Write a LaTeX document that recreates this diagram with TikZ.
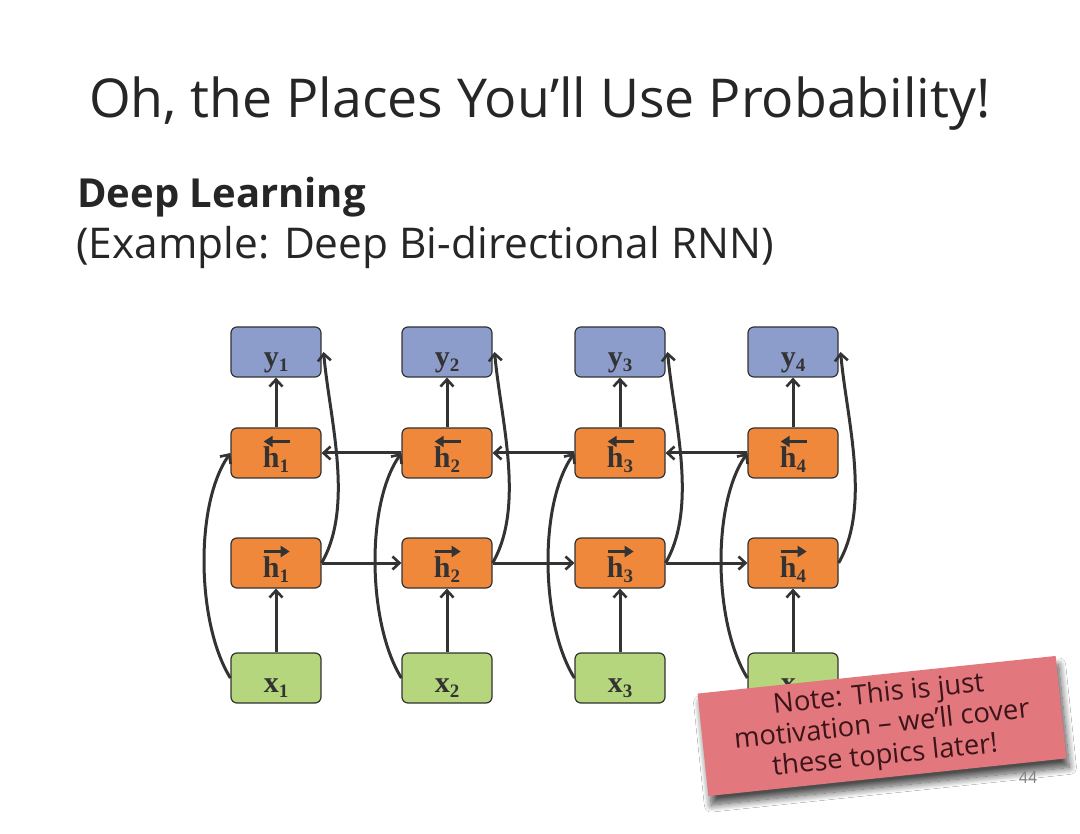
\documentclass[tikz,border=0pt]{standalone}
\usepackage{fontspec}
\setmainfont{Open Sans}
\newfontfamily\nodefont{Liberation Serif}
\usetikzlibrary{arrows.meta,shadows.blur,calc}
\definecolor{ybl}{HTML}{8C9DCB}
\definecolor{hor}{HTML}{F0883C}
\definecolor{xgr}{HTML}{B5D67C}
\definecolor{bord}{HTML}{333333}
\definecolor{notepink}{HTML}{E2787D}
\definecolor{titlecol}{HTML}{262626}
\newcommand{\sbs}[1]{\raisebox{-5pt}{\fontsize{19}{19}\selectfont #1}}
\newcommand{\vecarrow}[1]{\tikz[baseline=0pt]{\draw[bord, line width=3.6pt, #1] (0pt,0pt) -- (26pt,0pt);}}
\newcommand{\hv}[2]{\rlap{\raisebox{26pt}[0pt][0pt]{\hspace{-1pt}\vecarrow{#1}}}h\sbs{#2}}
\tikzset{
  cell/.style={draw=bord, line width=1.2pt, rounded corners=6pt, minimum width=90pt, minimum height=50pt, inner sep=0pt,
    text height=29pt, text depth=0pt, font=\nodefont\bfseries\fontsize{30}{30}\selectfont, text=bord},
  ycell/.style={cell, fill=ybl},
  hcell/.style={cell, fill=hor},
  xcell/.style={cell, fill=xgr},
  conn/.style={draw=bord, line width=3pt, -{Straight Barb[length=7pt,width=13pt,line width=2.6pt]}},
  lefttip/.style={{Triangle[length=9pt,width=11pt]}-},
  righttip/.style={-{Triangle[length=9pt,width=11pt]}},
}
\begin{document}
\begin{tikzpicture}[x=1pt,y=1pt]
\useasboundingbox (0,0) rectangle (1080,-834);
\fill[white] (0,0) rectangle (1080,-834);
% titles
\node[anchor=base west, inner sep=0pt, text=titlecol, font=\fontsize{53.6}{56}\selectfont] (title) at (89,-118) {Oh, the Places You’ll Use Probability!};
\node[anchor=base west, inner sep=0pt, text=titlecol, font=\bfseries\fontsize{40}{40}\selectfont] (sub) at (77,-208) {Deep Learning};
\node[anchor=base west, inner sep=0pt, text=titlecol, font=\fontsize{42.4}{43}\selectfont] (ex) at (76,-259) {(Example: Deep Bi-directional RNN)};
% nodes
\foreach \i/\cx in {1/276,2/447,3/620,4/793}{
  \node[ycell] (y\i) at (\cx,-352) {y\sbs{\i}};
  \node[hcell] (b\i) at (\cx,-453) {\hv{lefttip}{\i}};
  \node[hcell] (f\i) at (\cx,-563) {\hv{righttip}{\i}};
  \node[xcell] (x\i) at (\cx,-678) {x\sbs{\i}};
}
% connectors
\foreach \i in {1,2,3,4}{
  \draw[conn] (x\i) -- (f\i);
  \draw[conn] (b\i) -- (y\i);
  \draw[conn] (x\i.west) to[out=122,in=-125,looseness=0.72] (b\i.west);
  \draw[conn] (f\i.east) to[out=60,in=-85,looseness=0.8] ($(y\i.east)+(2,0)$);
}
\foreach \i/\j in {1/2,2/3,3/4}{
  \draw[conn] (f\i) -- (f\j);
  \draw[conn] (b\j) -- (b\i);
}
% note
\node[rotate=6, fill=notepink, minimum width=360pt, minimum height=103pt, inner sep=0pt, align=center,
  font=\fontsize{27.4}{31}\selectfont, text={rgb,255:red,60;green,20;blue,25},
  blur shadow={shadow xshift=3pt, shadow yshift=-9pt, shadow blur radius=7pt, shadow blur steps=14, shadow opacity=70}] (note) at (882,-726)
  {Note: This is just\\motivation – we’ll cover\\these topics later!};
\node[anchor=center, inner sep=0pt, text=gray, font=\fontsize{16}{18}\selectfont] (pg) at (1028,-778) {44};
\end{tikzpicture}
\end{document}
